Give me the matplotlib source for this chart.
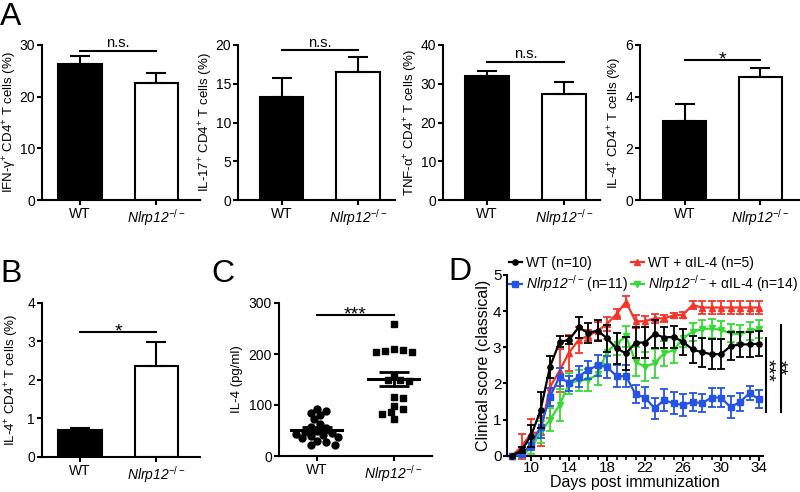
import numpy as np
import matplotlib
matplotlib.use('Agg')
import matplotlib.pyplot as plt
from matplotlib.lines import Line2D

plt.rcParams['font.family'] = ['Liberation Sans', 'DejaVu Sans']
plt.rcParams['mathtext.fontset'] = 'custom'
plt.rcParams['mathtext.rm'] = 'Liberation Sans'
plt.rcParams['mathtext.it'] = 'Liberation Sans:italic'
plt.rcParams['mathtext.sf'] = 'Liberation Sans:italic'
plt.rcParams['mathtext.bf'] = 'Liberation Sans:bold'

# ---------------- data ----------------
groups = ['WT', r'$\mathsf{Nlrp12}^{-/-}$']

ifng_mean = [26.3, 22.6]
ifng_sem = [1.5, 1.9]
il17_mean = [13.3, 16.5]
il17_sem = [2.5, 2.0]
tnfa_mean = [31.9, 27.3]
tnfa_sem = [1.3, 3.1]
il4a_mean = [3.05, 4.75]
il4a_sem = [0.65, 0.35]
il4b_mean = [0.70, 2.35]
il4b_sem = [0.05, 0.62]

il4_wt = [93, 88, 85, 80, 72, 62, 57, 54, 50, 48, 45, 44, 42, 40, 38, 35, 30, 28, 22, 22]
il4_ko = [258, 210, 208, 205, 204, 203, 157, 150, 149, 147, 115, 114, 99, 93, 87, 82, 72]

days = list(range(8, 35))
wt_mean = [0, 0.15, 0.55, 1.26, 2.46, 3.15, 3.2, 3.55, 3.4, 3.46, 3.25, 2.97, 2.83, 3.13,
           3.13, 3.37, 3.27, 3.29, 3.15, 2.94, 2.86, 2.81, 2.81, 3.03, 3.08, 3.08, 3.1]
wt_sem = [0, 0.08, 0.3, 0.5, 0.3, 0.15, 0.12, 0.28, 0.28, 0.3, 0.38, 0.42, 0.45, 0.42,
          0.42, 0.38, 0.3, 0.3, 0.35, 0.38, 0.4, 0.42, 0.42, 0.38, 0.35, 0.35, 0.35]
wta_mean = [0, 0.25, 0.62, 0.65, 1.9, 2.35, 2.85, 3.2, 3.32, 3.45, 3.65, 3.92, 4.26, 3.72,
            3.72, 3.8, 3.8, 3.88, 3.9, 4.17, 4.1, 4.1, 4.1, 4.1, 4.1, 4.1, 4.1]
wta_sem = [0, 0.35, 0.4, 0.38, 0.85, 0.6, 0.5, 0.35, 0.15, 0.25, 0.2, 0.15, 0.15, 0.18,
           0.15, 0.12, 0.1, 0.08, 0.08, 0.1, 0.18, 0.18, 0.18, 0.18, 0.18, 0.18, 0.18]
ko_mean = [0, 0.05, 0.3, 0.8, 1.63, 2.19, 2.0, 2.19, 2.37, 2.5, 2.46, 2.2, 2.2, 1.7,
           1.61, 1.31, 1.54, 1.45, 1.4, 1.49, 1.45, 1.61, 1.61, 1.34, 1.49, 1.73, 1.56]
ko_sem = [0, 0.05, 0.15, 0.3, 0.25, 0.25, 0.2, 0.3, 0.25, 0.3, 0.3, 0.3, 0.3, 0.25,
          0.3, 0.3, 0.3, 0.3, 0.3, 0.25, 0.25, 0.25, 0.25, 0.3, 0.25, 0.2, 0.25]
koa_mean = [0, 0.02, 0.2, 0.65, 1.0, 1.4, 2.0, 2.08, 2.1, 2.25, 2.88, 3.1, 3.3, 2.6,
            2.46, 2.56, 2.83, 2.92, 3.25, 3.43, 3.5, 3.52, 3.48, 3.39, 3.36, 3.46, 3.5]
koa_sem = [0, 0.05, 0.15, 0.3, 0.33, 0.45, 0.3, 0.3, 0.3, 0.3, 0.35, 0.3, 0.3, 0.4,
           0.4, 0.4, 0.35, 0.35, 0.25, 0.25, 0.25, 0.25, 0.25, 0.25, 0.25, 0.25, 0.25]

series_labels = ['WT (n=10)', r'$\mathsf{Nlrp12}^{-/-}\,$(n=11)',
                 'WT + αIL-4 (n=5)', r'$\mathsf{Nlrp12}^{-/-}\,$+ αIL-4 (n=14)']

# ---------------- layout helpers ----------------
W, H = 800, 492
fig = plt.figure(figsize=(W / 100, H / 100), dpi=100)


def add_ax(x0, x1, ytop, ybot):
    return fig.add_axes([x0 / W, 1 - ybot / H, (x1 - x0) / W, (ybot - ytop) / H])


def style(ax, labelsize=10):
    for s in ['top', 'right']:
        ax.spines[s].set_visible(False)
    for s in ['left', 'bottom']:
        ax.spines[s].set_linewidth(1.5)
    ax.tick_params(direction='out', length=3.5, width=1.5, labelsize=labelsize, pad=1.5)


def set_ylabel_px(ax, rect, text, right_px, size=9.5):
    ax.set_ylabel(text, fontsize=size)
    ax.yaxis.set_label_coords((right_px - rect[0]) / (rect[1] - rect[0]), 0.5)


def sig_mark(ax, x1, x2, y, text):
    ax.plot([x1, x2], [y, y], color='black', lw=1.5, clip_on=False)
    if text == 'n.s.':
        ax.annotate(text, xy=((x1 + x2) / 2, y), xytext=(0, 2.5), textcoords='offset points',
                    ha='center', va='baseline', fontsize=10.5)
    else:
        ax.annotate(text, xy=((x1 + x2) / 2, y), xytext=(0, -3.2), textcoords='offset points',
                    ha='center', va='baseline', fontsize=14)


def bar_panel(rect, means, sems, ymax, ystep, ylabel, sig, sig_y, xlim, label_px):
    ax = add_ax(*rect)
    x = np.arange(1, 3)
    ax.bar(x, means, width=0.57, color=['black', 'white'], edgecolor='black',
           linewidth=1.5, zorder=2)
    ax.errorbar(x, means, yerr=[[0, 0], sems], fmt='none', ecolor='black',
                elinewidth=1.5, capsize=7.5, capthick=1.5, zorder=3)
    ax.set_xlim(*xlim)
    ax.set_ylim(0, ymax)
    ax.set_yticks(np.arange(0, ymax + 1e-9, ystep))
    ax.set_xticks(x)
    ax.set_xticklabels(groups)
    sig_mark(ax, 1, 2, sig_y, sig)
    style(ax)
    set_ylabel_px(ax, rect, ylabel, label_px)
    return ax


# ---------------- panel A ----------------
bar_panel((42, 200, 45, 200), ifng_mean, ifng_sem, 30, 10,
          r'IFN-γ$^{+}$ CD4$^{+}$ T cells (%)', 'n.s.', 28.9, (0.503, 2.57), 19.5)
bar_panel((238, 395, 45, 200), il17_mean, il17_sem, 20, 5,
          r'IL-17$^{+}$ CD4$^{+}$ T cells (%)', 'n.s.', 19.35, (0.43, 2.48), 215)
bar_panel((443, 600, 45, 200), tnfa_mean, tnfa_sem, 40, 10,
          r'TNF-α$^{+}$ CD4$^{+}$ T cells (%)', 'n.s.', 35.7, (0.43, 2.46), 420)
bar_panel((640, 799, 45, 200), il4a_mean, il4a_sem, 6, 2,
          r'IL-4$^{+}$ CD4$^{+}$ T cells (%)', '*', 5.42, (0.41, 2.51), 624)

# ---------------- panel B ----------------
bar_panel((42, 200, 302.7, 456.7), il4b_mean, il4b_sem, 4, 1,
          r'IL-4$^{+}$ CD4$^{+}$ T cells (%)', '*', 3.25, (0.503, 2.57), 21)

# ---------------- panel C ----------------
crect = (279, 432, 303, 456)
axc = add_ax(*crect)
c_xlim = (0.51, 2.5)
c_ymax = 300
px_per_x = (crect[1] - crect[0]) / (c_xlim[1] - c_xlim[0])
px_per_y = (crect[3] - crect[2]) / c_ymax


def swarm(vals, center, diam=6.8, step=3.0):
    vals = np.asarray(vals, float)
    placed = []
    out = np.zeros(len(vals))
    offsets = [0]
    for k in range(1, 30):
        offsets += [k * step, -k * step]
    for i in np.argsort(-vals):
        y = vals[i] * px_per_y
        for dx in offsets:
            if all((dx - px) ** 2 + (y - py) ** 2 >= diam ** 2 for px, py in placed):
                break
        placed.append((dx, y))
        out[i] = center + dx / px_per_x
    return out


xw = swarm(il4_wt, 1)
xk = swarm(il4_ko, 2)
axc.plot(xw, il4_wt, 'o', ms=5, color='black', zorder=3, clip_on=False)
axc.plot(xk, il4_ko, 's', ms=4.6, color='black', zorder=3, clip_on=False)
for pos, vals in [(1, il4_wt), (2, il4_ko)]:
    m = np.mean(vals)
    s = np.std(vals, ddof=1) / np.sqrt(len(vals))
    axc.plot([pos - 0.33, pos + 0.33], [m, m], color='black', lw=2.2, zorder=4)
    axc.errorbar([pos], [m], yerr=[s], fmt='none', ecolor='black', elinewidth=2,
                 capsize=11, capthick=2, zorder=4)
axc.set_xlim(*c_xlim)
axc.set_ylim(0, c_ymax)
axc.set_yticks([0, 100, 200, 300])
axc.set_xticks([1, 2])
axc.set_xticklabels(groups)
sig_mark(axc, 1, 2, 276, '***')
style(axc)
set_ylabel_px(axc, crect, 'IL-4 (pg/ml)', 243)

# ---------------- panel D ----------------
drect = (506.7, 763, 275, 455.7)
axd = add_ax(*drect)
colors = ['black', '#2453e6', '#f4352a', '#38d934']
markers = ['o', 's', '^', 'v']
data = [(wt_mean, wt_sem), (ko_mean, ko_sem), (wta_mean, wta_sem), (koa_mean, koa_sem)]
draw_order = [2, 3, 1, 0]
for i in draw_order:
    m, s = data[i]
    axd.errorbar(days, m, yerr=s, color=colors[i], marker=markers[i], ms=3.8,
                 lw=1.6, elinewidth=1.3, capsize=2.8, capthick=1.3, clip_on=False,
                 zorder=3 + draw_order.index(i))
axd.set_xlim(7.44, 34.42)
axd.set_ylim(0, 5)
axd.set_yticks(range(0, 6))
axd.set_xticks(range(10, 35, 4))
axd.set_xticks([d for d in days if (d - 10) % 4 != 0], minor=True)
style(axd, labelsize=11)
axd.tick_params(axis='x', pad=0.5)
axd.tick_params(axis='y', pad=0.8, length=3)
axd.tick_params(which='minor', direction='out', length=3, width=1.2)
set_ylabel_px(axd, drect, 'Clinical score (classical)', 491, size=11.5)
axd.set_xlabel('Days post immunization', fontsize=11.5, labelpad=0)

handles = [Line2D([], [], color=colors[i], marker=markers[i], ms=3.8, lw=1.6) for i in range(4)]
leg_kw = dict(loc='upper left', bbox_transform=fig.transFigure, frameon=False,
              fontsize=10, handlelength=0.9, handletextpad=0.3, labelspacing=0.25,
              borderpad=0, borderaxespad=0)
leg1 = axd.legend(handles[:2], series_labels[:2], bbox_to_anchor=(509 / W, 1 - 256 / H), **leg_kw)
axd.add_artist(leg1)
axd.legend(handles[2:], series_labels[2:], bbox_to_anchor=(631 / W, 1 - 256 / H), **leg_kw)

# significance brackets (right of panel D)
axd.plot([34.74, 34.74], [1.22, 3.25], color='black', lw=1.5, clip_on=False)
axd.plot([36.28, 36.28], [1.22, 3.62], color='black', lw=1.5, clip_on=False)
axd.text(34.3, 2.37, '***', rotation=270, rotation_mode='anchor', ha='center',
         va='baseline', fontsize=14)
axd.text(35.6, 2.43, '**', rotation=270, rotation_mode='anchor', ha='center',
         va='baseline', fontsize=14)

# ---------------- panel letters ----------------
for letter, px, py in [('A', 0, 25), ('B', 0, 282), ('C', 211, 282), ('D', 448, 280)]:
    fig.text(px / W, 1 - py / H, letter, fontsize=23, va='baseline', ha='left')

fig.savefig('out.png', dpi=100)
